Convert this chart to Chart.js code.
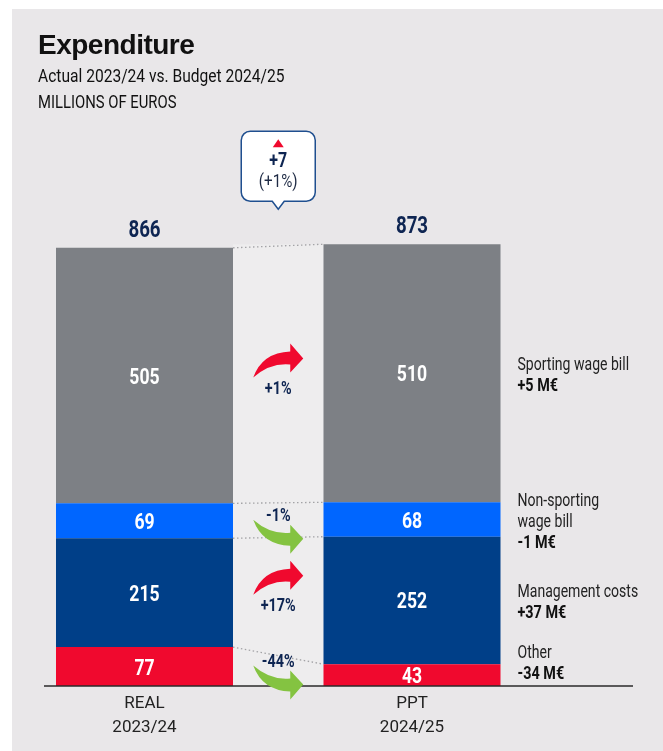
<!DOCTYPE html>
<html>
<head>
<meta charset="utf-8">
<title>Expenditure</title>
<script src="https://cdn.jsdelivr.net/npm/chart.js@4.4.1/dist/chart.umd.min.js"></script>
<style>
  html, body { margin: 0; padding: 0; background: #fff; }
  body { width: 663px; height: 751px; position: relative; overflow: hidden; }
  #panel { position: absolute; left: 12px; top: 9px; width: 651px; height: 742px; background: #E9E7E9; }
  #chart { position: absolute; left: 0; top: 0; }
  .head { position: absolute; left: 38px; color: #111; white-space: nowrap; transform-origin: 0 0; }
  #title { top: 31px; font: bold 28px/28px "Liberation Sans", Arial, sans-serif; letter-spacing: -0.5px; }
  #sub1 { top: 66px; font: 19px/19px Roboto, sans-serif; transform: scaleX(0.82); }
  #sub2 { top: 92px; font: 19px/19px Roboto, sans-serif; transform: scaleX(0.78); }
</style>
</head>
<body>
<div id="panel"></div>
<canvas id="chart" width="663" height="751"></canvas>
<div class="head" id="title">Expenditure</div>
<div class="head" id="sub1">Actual 2023/24 vs. Budget 2024/25</div>
<div class="head" id="sub2">MILLIONS OF EUROS</div>

<script>
// values, stacked bottom to top
const periods = [["REAL", "2023/24"], ["PPT", "2024/25"]];
const segmentNames = [["Other"], ["Management costs"], ["Non-sporting", "wage bill"], ["Sporting wage bill"]];
const otherCosts = [77, 43];
const managementCosts = [215, 252];
const nonSportingWages = [69, 68];
const sportingWages = [505, 510];
const totals = [866, 873];
const changeEuro = ["-34 M€", "+37 M€", "-1 M€", "+5 M€"];
const changePct = ["-44%", "+17%", "-1%", "+1%"];
const totalChange = ["+7", "(+1%)"];

const COLORS = ["#F0092E", "#003F88", "#0066FF", "#7D8085"];
const FAMILY = "Roboto, 'Liberation Sans', sans-serif";
const NAVY = "#0E2552";
const BAND = "#EEEDEE";

/* condensed-looking text: the installed fonts are wide, so squeeze them */
function narrow(ctx, str, x, y, size, bold, sx = 0.8) {
  ctx.save();
  ctx.font = (bold ? "bold " : "") + size + "px " + FAMILY;
  ctx.translate(x, y);
  ctx.scale(sx, 1);
  ctx.fillText(str, 0, 0);
  ctx.restore();
}

/* curved "swoosh" arrow, tail at left, head pointing right */
function swoosh(ctx, cx, cy, up, color) {
  ctx.save();
  ctx.translate(cx, cy);
  ctx.scale(1, up ? 1 : -1);
  ctx.fillStyle = color;
  ctx.beginPath();
  ctx.moveTo(-25, 17);
  ctx.quadraticCurveTo(-16, -8, 12, -9);
  ctx.lineTo(12, -17);
  ctx.lineTo(25, -2);
  ctx.lineTo(12, 12);
  ctx.lineTo(12, 4);
  ctx.quadraticCurveTo(-8, 2, -25, 17);
  ctx.closePath();
  ctx.fill();
  ctx.restore();
}

const overlay = {
  id: "overlay",
  beforeDatasetsDraw(chart) {
    const ctx = chart.ctx;
    const metas = chart.getSortedVisibleDatasetMetas();
    const base = chart.scales.y.getPixelForValue(0);
    const a = metas[0].data[0], b = metas[0].data[1];
    const x1 = a.x + a.width / 2, x2 = b.x - b.width / 2;
    const top = Math.min(metas[3].data[0].y, metas[3].data[1].y);
    ctx.save();
    ctx.fillStyle = BAND;
    ctx.fillRect(x1, top, x2 - x1, base - top);
    ctx.restore();
  },
  afterDatasetsDraw(chart) {
    const ctx = chart.ctx;
    const metas = chart.getSortedVisibleDatasetMetas();
    const base = chart.scales.y.getPixelForValue(0);
    const a = metas[0].data[0], b = metas[0].data[1];
    const x1 = a.x + a.width / 2, x2 = b.x - b.width / 2;
    const mid = (x1 + x2) / 2;
    ctx.save();

    // dotted connectors between segment tops
    ctx.strokeStyle = "#A3A3A6";
    ctx.lineWidth = 1.3;
    ctx.setLineDash([1.5, 2.5]);
    metas.forEach((m) => {
      ctx.beginPath();
      ctx.moveTo(x1, m.data[0].y);
      ctx.lineTo(x2, m.data[1].y);
      ctx.stroke();
    });
    ctx.setLineDash([]);

    // axis line
    ctx.strokeStyle = "#2A2A2A";
    ctx.lineWidth = 1.5;
    ctx.beginPath();
    ctx.moveTo(a.x - a.width / 2 - 12, base);
    ctx.lineTo(chart.width - 30, base);
    ctx.stroke();

    // values inside segments
    ctx.textAlign = "center";
    ctx.textBaseline = "alphabetic";
    ctx.fillStyle = "#fff";
    metas.forEach((m) => {
      m.data.forEach((el, i) => {
        narrow(ctx, String(chart.data.datasets[m.index].data[i]), el.x, (el.y + el.base) / 2 + 8, 22, true);
      });
    });

    // totals above bars
    ctx.fillStyle = NAVY;
    metas[3].data.forEach((el, i) => narrow(ctx, String(totals[i]), el.x, el.y - 11, 24, true, 0.78));

    // change arrows between bars
    metas.forEach((m, k) => {
      const el = m.data[0];
      const segMid = (el.y + el.base) / 2;
      const up = changePct[k][0] === "+";
      ctx.fillStyle = NAVY;
      if (up) {
        swoosh(ctx, mid, segMid - 15, true, "#F0092E");
        ctx.fillStyle = NAVY;
        narrow(ctx, changePct[k], mid, segMid + 18, 18, true, 0.8);
      } else {
        narrow(ctx, changePct[k], mid, segMid, 18, true, 0.8);
        swoosh(ctx, mid, segMid + 16, false, "#84C341");
      }
    });

    // labels right of the second bar
    ctx.textAlign = "left";
    const lx = b.x + b.width / 2 + 17;
    metas.forEach((m, k) => {
      const el = m.data[1];
      const lines = segmentNames[k].concat([changeEuro[k]]);
      const n = lines.length;
      let y0 = (el.y + el.base) / 2 + 6 - (n - 1) * 10.5 + 1.5;
      if (y0 + (n - 1) * 21 > base - 7) y0 = base - 7 - (n - 1) * 21;
      lines.forEach((t, j) => {
        const last = j === n - 1;
        ctx.fillStyle = last ? "#111" : "#222";
        narrow(ctx, t, lx, y0 + j * 21, 18, last, last ? 0.8 : 0.78);
      });
    });

    // callout with total change
    const top = Math.min(metas[3].data[0].y, metas[3].data[1].y);
    const bw = 74, bh = 70, r = 9;
    const bx = mid - bw / 2, byBot = top - 43, by = byBot - bh;
    ctx.beginPath();
    ctx.moveTo(bx + r, by);
    ctx.lineTo(bx + bw - r, by);
    ctx.arcTo(bx + bw, by, bx + bw, by + r, r);
    ctx.lineTo(bx + bw, byBot - r);
    ctx.arcTo(bx + bw, byBot, bx + bw - r, byBot, r);
    ctx.lineTo(mid + 6, byBot);
    ctx.lineTo(mid, byBot + 8);
    ctx.lineTo(mid - 6, byBot);
    ctx.lineTo(bx + r, byBot);
    ctx.arcTo(bx, byBot, bx, byBot - r, r);
    ctx.lineTo(bx, by + r);
    ctx.arcTo(bx, by, bx + r, by, r);
    ctx.closePath();
    ctx.fillStyle = "#fff";
    ctx.fill();
    ctx.strokeStyle = "#1F4F8F";
    ctx.lineWidth = 1.5;
    ctx.stroke();

    ctx.fillStyle = "#F0092E";
    ctx.beginPath();
    ctx.moveTo(mid - 5.5, by + 16);
    ctx.lineTo(mid + 5.5, by + 16);
    ctx.lineTo(mid, by + 8);
    ctx.closePath();
    ctx.fill();

    ctx.textAlign = "center";
    ctx.fillStyle = NAVY;
    narrow(ctx, totalChange[0], mid, by + 36, 20, true);
    ctx.fillStyle = "#1E2A44";
    narrow(ctx, totalChange[1], mid, by + 56, 19, false);

    ctx.restore();
  }
};

new Chart(document.getElementById("chart"), {
  type: "bar",
  data: {
    labels: periods,
    datasets: [
      { label: segmentNames[0].join(" "), data: otherCosts, backgroundColor: COLORS[0] },
      { label: segmentNames[1].join(" "), data: managementCosts, backgroundColor: COLORS[1] },
      { label: segmentNames[2].join(" "), data: nonSportingWages, backgroundColor: COLORS[2] },
      { label: segmentNames[3].join(" "), data: sportingWages, backgroundColor: COLORS[3] },
    ],
  },
  options: {
    responsive: false,
    animation: false,
    devicePixelRatio: 1,
    layout: { padding: { left: 10.75, right: 117.25, top: 180, bottom: 0 } },
    datasets: { bar: { categoryPercentage: 1, barPercentage: 0.6617, borderWidth: 0 } },
    plugins: { legend: { display: false }, tooltip: { enabled: false } },
    scales: {
      x: {
        stacked: true,
        grid: { display: false, drawTicks: false },
        border: { display: false },
        ticks: { color: "#222", padding: 6, font: { family: FAMILY, size: 17, lineHeight: 1.41 } },
        afterFit: (s) => { s.height = 65; },
      },
      y: { stacked: true, display: false, min: 0, max: 1000 },
    },
  },
  plugins: [overlay],
});
</script>
</body>
</html>
